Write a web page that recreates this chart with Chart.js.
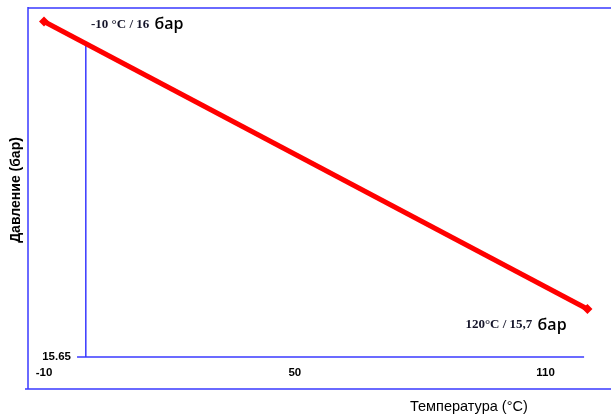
<!DOCTYPE html>
<html>
<head>
<meta charset="utf-8">
<script src="https://cdn.jsdelivr.net/npm/chart.js@4/dist/chart.umd.min.js"></script>
<style>
html,body{margin:0;padding:0;background:#fff;}
canvas{display:block;}
</style>
</head>
<body>
<canvas id="c" width="611" height="416"></canvas>
<script>
// Data
const temps = [-10, 120];
const pressures = [16, 15.7];
const xTicks = [-10, 50, 110];
const yTicks = [15.65];
const vRefX = [0, 0];
const vRefY = [15.977, 15.65];
const hRefX = [-2.1, 119.2];
const hRefY = [15.65, 15.65];
const pointLabels = ['-10 °C / 16', '120°C / 15,7'];
const unitLabel = 'бар';
const xTitle = 'Температура (°C)';
const yTitle = 'Давление (бар)';

const toPts = (xs, ys) => xs.map((x, i) => ({x: x, y: ys[i]}));
const BLUE = 'rgb(58,58,255)';

const decor = {
  id: 'decor',
  beforeDatasetsDraw(chart) {
    const ctx = chart.ctx, a = chart.chartArea;
    ctx.save();
    ctx.strokeStyle = BLUE;
    ctx.lineWidth = 1.5;
    ctx.beginPath();
    ctx.moveTo(a.left, a.top - 1); ctx.lineTo(a.left, a.bottom);
    ctx.moveTo(a.left, a.top); ctx.lineTo(a.right, a.top);
    ctx.moveTo(a.left - 3, a.bottom); ctx.lineTo(a.right, a.bottom);
    ctx.stroke();
    ctx.restore();
  },
  afterDatasetsDraw(chart) {
    const ctx = chart.ctx, xs = chart.scales.x, ys = chart.scales.y, a = chart.chartArea;
    ctx.save();
    ctx.fillStyle = '#000';
    // x tick labels
    ctx.font = 'bold 11.5px "Liberation Sans", Arial, sans-serif';
    ctx.textAlign = 'center';
    ctx.textBaseline = 'middle';
    xTicks.forEach(v => ctx.fillText(String(v), xs.getPixelForValue(v), a.bottom - 16));
    // y tick labels
    ctx.textAlign = 'right';
    yTicks.forEach(v => ctx.fillText(String(v), a.left + 43, ys.getPixelForValue(v)));
    // axis titles
    ctx.font = '14.5px "Liberation Sans", Arial, sans-serif';
    ctx.textAlign = 'left';
    ctx.fillText(xTitle, 410, 407);
    ctx.save();
    ctx.translate(16, 190);
    ctx.rotate(-Math.PI / 2);
    ctx.font = 'bold 14px "Liberation Sans", Arial, sans-serif';
    ctx.textAlign = 'center';
    ctx.fillText(yTitle, 0, 0);
    ctx.restore();
    // point annotations
    const offs = [[47, 3], [-122, 16]];
    temps.forEach((t, i) => {
      const px = xs.getPixelForValue(t), py = ys.getPixelForValue(pressures[i]);
      const lx = px + offs[i][0], ly = py + offs[i][1];
      ctx.font = 'bold 13px "Liberation Serif", "Times New Roman", serif';
      ctx.fillStyle = '#15152a';
      ctx.textAlign = 'left';
      ctx.fillText(pointLabels[i], lx, ly);
      const w = ctx.measureText(pointLabels[i] + ' ').width;
      ctx.font = '600 16px "Open Sans", "Liberation Sans", Arial, sans-serif';
      ctx.fillStyle = '#000';
      ctx.fillText(unitLabel, lx + w + 2, ly);
    });
    ctx.restore();
  }
};

new Chart(document.getElementById('c'), {
  type: 'scatter',
  data: {
    datasets: [
      {
        data: toPts(temps, pressures),
        showLine: true,
        borderColor: 'rgb(255,0,0)',
        backgroundColor: 'rgb(255,0,0)',
        borderWidth: 5,
        pointStyle: 'rectRot',
        pointRadius: 5,
        pointBorderWidth: 0,
        clip: false
      },
      {
        data: toPts(vRefX, vRefY),
        showLine: true,
        borderColor: BLUE,
        borderWidth: 1.5,
        pointRadius: 0
      },
      {
        data: toPts(hRefX, hRefY),
        showLine: true,
        borderColor: BLUE,
        borderWidth: 1.5,
        pointRadius: 0
      }
    ]
  },
  options: {
    responsive: false,
    animation: false,
    layout: { autoPadding: false, padding: { left: 28, top: 8, right: 0, bottom: 27 } },
    plugins: { legend: { display: false }, tooltip: { enabled: false } },
    scales: {
      x: { type: 'linear', display: false, min: -13.83, max: 125.64 },
      y: { type: 'linear', display: false, min: 15.6165, max: 16.0141 }
    }
  },
  plugins: [decor]
});
</script>
</body>
</html>
